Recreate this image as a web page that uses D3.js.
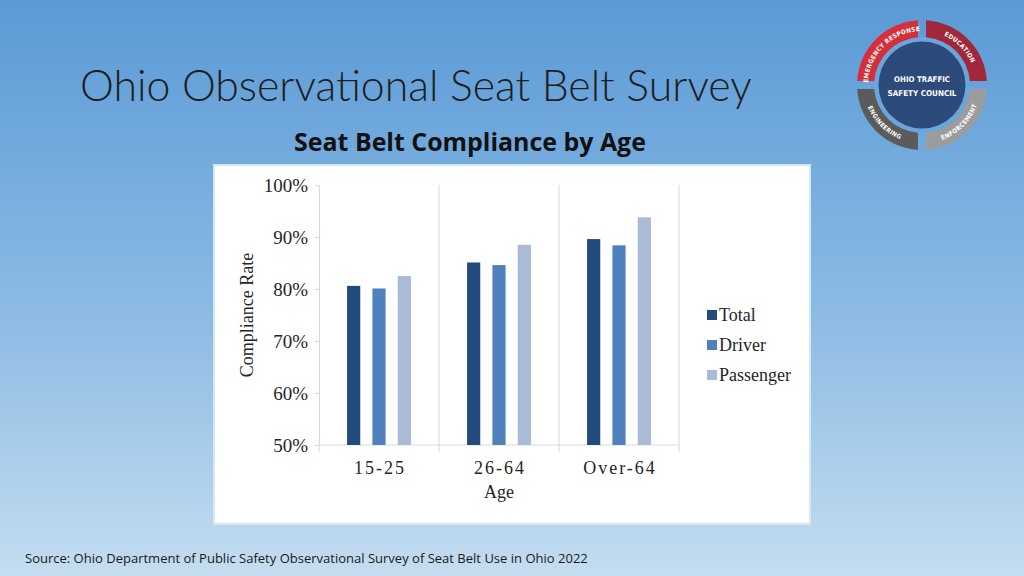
<!DOCTYPE html>
<html><head><meta charset="utf-8">
<script src="https://cdn.jsdelivr.net/npm/d3@7"></script>
<style>html,body{margin:0;padding:0;overflow:hidden;}svg{display:block;}</style>
</head><body>
<svg id="c" width="1024" height="576"></svg>
<script>
const categories = ["15-25", "26-64", "Over-64"];
const seriesNames = ["Total", "Driver", "Passenger"];
const totalValues = [80.6, 85.1, 89.6];
const driverValues = [80.1, 84.6, 88.4];
const passengerValues = [82.5, 88.5, 93.8];
const yTicks = [50, 60, 70, 80, 90, 100];
const seriesColors = ["#234a7d", "#4f81bd", "#aabbd8"];
const logoSegments = ["EDUCATION", "ENFORCEMENT", "ENGINEERING", "EMERGENCY RESPONSE"];

const svg = d3.select("#c");
const defs = svg.append("defs");
const grad = defs.append("linearGradient").attr("id","bg").attr("x1",0).attr("y1",0).attr("x2",0).attr("y2",1);
grad.append("stop").attr("offset","0%").attr("stop-color","#5a9ad6");
grad.append("stop").attr("offset","55%").attr("stop-color","#8dbbe4");
grad.append("stop").attr("offset","100%").attr("stop-color","#c4ddf0");
svg.append("rect").attr("width",1024).attr("height",576).attr("fill","url(#bg)");

function fitText(sel, target) {
  const w = sel.node().getComputedTextLength();
  const fs = parseFloat(sel.attr("font-size"));
  sel.attr("font-size", fs * target / w);
}

// Title
const title = svg.append("text").attr("x",80).attr("y",101)
  .attr("font-family","Lato, 'Open Sans', sans-serif").attr("font-weight",300)
  .attr("font-size",40).attr("fill","#1e1e1e").text("Ohio Observational Seat Belt Survey");
fitText(title, 672);
const sub = svg.append("text").attr("x",470).attr("y",151).attr("text-anchor","middle")
  .attr("font-family","'Open Sans', Lato, sans-serif").attr("font-weight",700)
  .attr("font-size",22).attr("fill","#111").text("Seat Belt Compliance by Age");
fitText(sub, 352);
const src = svg.append("text").attr("x",25).attr("y",563)
  .attr("font-family","'Open Sans', Lato, sans-serif").attr("font-size",13).attr("fill","#1a1a1a")
  .text("Source: Ohio Department of Public Safety Observational Survey of Seat Belt Use in Ohio 2022");
fitText(src, 563);

// Chart panel
svg.append("rect").attr("x",214).attr("y",165).attr("width",596).attr("height",359)
  .attr("fill","#fff").attr("stroke","#d3e9ef").attr("stroke-width",2);

const x = d3.scaleBand().domain(categories).range([319, 679]).paddingInner(0).paddingOuter(0);
const xs = d3.scaleBand().domain(seriesNames).range([22, 98]).paddingInner(0.48).paddingOuter(0.24);
const y = d3.scaleLinear().domain([50, 100]).range([445, 185]);
const serif = "'Liberation Serif', 'Times New Roman', serif";
const txt = "#262626";

// vertical separators
const bounds = categories.map(c => x(c) + x.bandwidth());
svg.append("g").selectAll("line").data(bounds).join("line")
  .attr("x1", d => d).attr("x2", d => d).attr("y1", y(100)).attr("y2", 452)
  .attr("stroke","#d9d9d9").attr("stroke-width",1);
svg.append("line").attr("x1",x(categories[0])).attr("x2",x(categories[0])).attr("y1",445).attr("y2",452)
  .attr("stroke","#d9d9d9");

// y axis
const yAxis = svg.append("g").attr("transform","translate(319,0)")
  .call(d3.axisLeft(y).tickValues(yTicks).tickFormat(d => d + "%").tickSizeOuter(0).tickSize(4).tickPadding(7));
yAxis.select(".domain").attr("stroke","#d9d9d9");
yAxis.selectAll(".tick line").attr("stroke","#d9d9d9");
yAxis.selectAll("text").attr("font-family",serif).attr("font-size",19).attr("fill",txt).attr("dy","0.35em");

// x axis line
svg.append("line").attr("x1",319).attr("x2",679).attr("y1",445).attr("y2",445).attr("stroke","#d9d9d9");
svg.append("g").selectAll("text").data(categories).join("text")
  .attr("x", d => x(d) + x.bandwidth()/2 + 1).attr("y", 474).attr("text-anchor","middle")
  .attr("font-family",serif).attr("font-size",18).attr("letter-spacing","2px").attr("fill",txt).text(d => d);

svg.append("text").attr("x",499).attr("y",498).attr("text-anchor","middle")
  .attr("font-family",serif).attr("font-size",18).attr("fill",txt).text("Age");
svg.append("text").attr("transform","translate(253,315) rotate(-90)").attr("text-anchor","middle")
  .attr("font-family",serif).attr("font-size",18).attr("fill",txt).text("Compliance Rate");

// bars
const allValues = [totalValues, driverValues, passengerValues];
const rows = [];
categories.forEach((c, i) => seriesNames.forEach((s, j) => rows.push({c, s, v: allValues[j][i], j})));
svg.append("g").selectAll("rect").data(rows).join("rect")
  .attr("x", d => x(d.c) + xs(d.s)).attr("width", xs.bandwidth())
  .attr("y", d => y(d.v)).attr("height", d => y(50) - y(d.v))
  .attr("fill", d => seriesColors[d.j]);

// legend
const lg = svg.append("g").selectAll("g").data(seriesNames).join("g")
  .attr("transform", (d,i) => `translate(707, ${315 + i*30})`);
lg.append("rect").attr("x",0).attr("y",-5).attr("width",10).attr("height",10).attr("fill",(d,i)=>seriesColors[i]);
lg.append("text").attr("x",12).attr("y",6).attr("font-family",serif).attr("font-size",18).attr("fill",txt).text(d=>d);

// logo
const cx = 922, cy = 85;
const logo = svg.append("g").attr("transform",`translate(${cx},${cy})`);
logo.append("circle").attr("r",48).attr("fill","#69a6dc");
const segColors = ["#a0283a", "#9c9c9c", "#5b5b5b", "#d3303b"];
const arc = d3.arc().innerRadius(48).outerRadius(65).padAngle(0.1);
const logoFont = "'DejaVu Sans Condensed', Roboto, sans-serif";
const measurer = logo.append("text").attr("font-family",logoFont).attr("font-weight",700).attr("font-size",6.3);
function charW(ch) { measurer.text(ch === " " ? "\u00a0" : ch); return measurer.node().getComputedTextLength(); }
logoSegments.forEach((name, i) => {
  const a0 = i * Math.PI/2, a1 = (i+1) * Math.PI/2;
  logo.append("path").attr("d", arc({startAngle:a0, endAngle:a1})).attr("fill", segColors[i]);
  const top = (i === 0 || i === 3);
  const r = top ? 54 : 58.5;
  const chars = name.split("");
  const widths = chars.map(c => charW(c) + 0.3);
  const W = d3.sum(widths);
  const mid = (a0 + a1) / 2;
  let pos = 0;
  chars.forEach((ch, k) => {
    const centerArc = pos + widths[k] / 2;
    pos += widths[k];
    if (ch === " ") return;
    const th = top ? mid - W/(2*r) + centerArc / r : mid + W/(2*r) - centerArc / r;
    const px = r * Math.sin(th), py = -r * Math.cos(th);
    const rot = top ? th * 180 / Math.PI : th * 180 / Math.PI - 180;
    logo.append("text").attr("transform", `translate(${px},${py}) rotate(${rot})`)
      .attr("text-anchor","middle").attr("font-family",logoFont).attr("font-weight",700)
      .attr("font-size",6.3).attr("fill","#fff").text(ch);
  });
});
measurer.remove();
logo.append("circle").attr("r",43.5).attr("fill","#2c4a7a");
const l1 = logo.append("text").attr("y",-3).attr("text-anchor","middle").attr("font-family",logoFont)
  .attr("font-weight",700).attr("font-size",9).attr("fill","#fff").text("OHIO TRAFFIC");
fitText(l1, 56);
const l2 = logo.append("text").attr("y",11).attr("text-anchor","middle").attr("font-family",logoFont)
  .attr("font-weight",700).attr("font-size",9).attr("fill","#fff").text("SAFETY COUNCIL");
fitText(l2, 69);
</script>
</body></html>
